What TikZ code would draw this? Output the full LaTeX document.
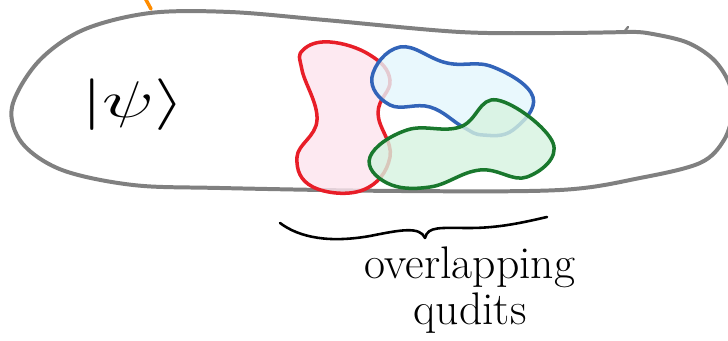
\RequirePackage{fix-cm}
\documentclass[tikz,border=0pt]{standalone}
\usepackage{tikz}
\usetikzlibrary{calc}
\definecolor{qred}{RGB}{232,30,40}
\definecolor{qredfill}{RGB}{252,228,238}
\definecolor{qblue}{RGB}{50,100,185}
\definecolor{qbluefill}{RGB}{228,246,252}
\definecolor{qgreen}{RGB}{25,120,45}
\definecolor{qgreenfill}{RGB}{214,242,224}
\definecolor{pen}{RGB}{255,140,0}
\tikzset{every picture/.style={line cap=round,line join=round}}
\tikzset{outline/.style = {draw=black!50,line width=3.4pt}}
\tikzset{qudit/.style = {line width=3pt,fill opacity=0.8}}
\tikzset{scribble/.style = {draw=black,line width=2.2pt}}
\tikzset{hand/.style = {font=\fontsize{39}{39}\selectfont,align=center,inner sep=0pt}}

\begin{document}
\begin{tikzpicture}[x=0.03cm,y=-0.03cm]
\useasboundingbox (0,0) rectangle (728,341);
% stray pen stroke
\draw[pen,line width=3pt] (145,-2) -- (151,9);
% the state
\draw[outline] plot[smooth,tension=0.55] coordinates {(627,32) (560,33) (460,32) (325,20) (230,12) (150,13) (83,30) (38,62) (12,107) (22,143) (62,170) (133,185) (220,188) (400,191) (560,190) (640,178) (700,163) (724,140) (733,110) (729,83) (713,59) (686,42) (647,33) (627,32)};
\draw[outline,line width=2pt] (624,32) -- (628,27);
\node[inner sep=0pt] (psi) at (133,105) {\scalebox{1.5}[1]{\fontsize{44}{44}\selectfont$|\psi\rangle$}};
% qudits
\filldraw[qudit,draw=qred,fill=qredfill] plot[smooth cycle,tension=0.7] coordinates {(303,50) (330,42) (370,55) (390,80) (378,113) (390,157) (363,190) (313,187) (297,157) (317,120) (302,70)};
\filldraw[qudit,draw=qblue,fill=qbluefill] plot[smooth cycle,tension=0.7] coordinates {(372,77) (400,47) (447,63) (493,67) (533,97) (513,130) (483,135) (463,127) (430,107) (390,105)};
\filldraw[qudit,draw=qgreen,fill=qgreenfill] plot[smooth cycle,tension=0.7] coordinates {(370,157) (407,130) (460,127) (497,100) (553,143) (527,177) (480,170) (430,187) (387,183)};
% brace and label
\coordinate (bl) at (280,223);
\coordinate (btip) at (425,238);
\coordinate (br) at (547,217);
\draw[scribble] (bl) .. controls (300,238) and (330,243) .. (370,236) .. controls (400,230) and (420,226) .. (btip);
\draw[scribble] (btip) .. controls (428,226) and (440,228) .. (470,228) .. controls (500,228) and (525,222) .. (br);
\node[hand] (lbl) at (470,290) {overlapping\\qudits};
\end{tikzpicture}
\end{document}
